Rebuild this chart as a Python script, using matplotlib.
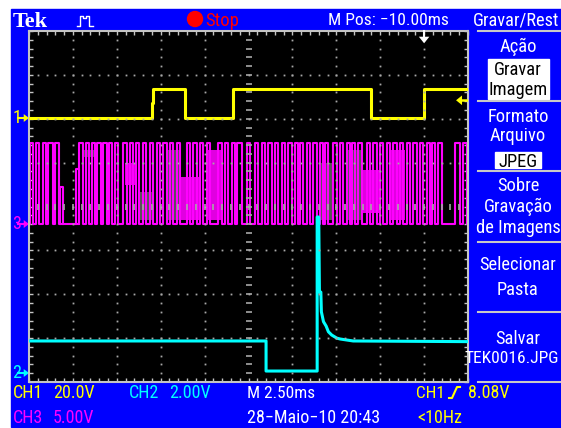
import numpy as np
import matplotlib
matplotlib.use("Agg")
import matplotlib.pyplot as plt
from matplotlib import font_manager
from matplotlib.patches import Rectangle, Circle
from matplotlib.lines import Line2D
from matplotlib.transforms import Affine2D, blended_transform_factory

# time in ms relative to the trigger point; screen spans 10 div x 2.5 ms
T_LEFT, T_RIGHT = -22.5, 2.5

# channel settings: volts per division and ground position (div from centre)
ch_scale = {"1": 20.0, "2": 2.0, "3": 5.0}
ch_pos = {"1": 2.017, "2": -3.795, "3": -0.399}
trig_level = 8.08  # V on CH1

# CH1 (yellow), step levels switching at each time
ch1_t = [-22.5, -15.51, -15.43, -13.61, -10.88, -3.02, 0.0, 2.5]
ch1_v = [0.0, 6.8, 13.2, 0.0, 13.2, 0.0, 13.2, 13.2]

# CH2 (cyan)
ch2_t = [-22.5, -9.00, -9.00, -6.09, -6.09, -6.00, -5.96, -5.88, -5.85, -5.73,
         -5.58, -5.45, -5.26, -4.97, -4.78, -4.04, 2.5]
ch2_v = [1.46, 1.46, 0.09, 0.09, 7.11, 7.11, 3.69, 3.69, 2.79, 2.34,
         2.14, 1.88, 1.73, 1.59, 1.55, 1.46, 1.43]

# CH3 (magenta) pulse edges
ch3_rise = [-22.47, -22.10, -21.71, -21.40, -21.01, -19.65, -19.25, -18.92, -18.60, -18.26,
            -17.94, -17.60, -17.12, -16.74, -16.40, -16.02, -15.60, -15.22, -14.85, -14.46,
            -14.08, -13.51, -13.14, -12.76, -12.37, -11.71, -11.33, -10.95, -10.67, -10.10,
            -9.62, -9.24, -8.87, -8.49, -8.10, -7.73, -7.35, -7.06, -6.68, -6.30,
            -5.92, -5.64, -5.17, -4.78, -4.40, -4.12, -3.74, -3.26, -2.89, -2.51,
            -2.12, -1.75, -1.37, -0.99, -0.61, -0.23, 0.15, 0.44, 0.81, 1.77, 2.24]
ch3_fall = [-22.27, -21.91, -21.53, -21.14, -20.77, -19.40, -19.06, -18.74, -18.41, -18.07,
            -17.75, -17.41, -16.93, -16.55, -16.21, -15.83, -15.42, -15.03, -14.65, -14.28,
            -13.90, -13.33, -12.94, -12.57, -12.19, -11.52, -11.14, -10.76, -10.38, -9.91,
            -9.44, -9.05, -8.67, -8.30, -7.92, -7.53, -7.16, -6.87, -6.49, -6.11,
            -5.73, -5.45, -4.97, -4.60, -4.21, -3.93, -3.55, -3.08, -2.69, -2.32,
            -1.94, -1.55, -1.18, -0.80, -0.42, -0.04, 0.34, 0.63, 1.01, 2.05, 2.43]
ch3_high, ch3_low = 9.23, -0.05

# partial pulses from earlier acquisitions
ghost_t0 = [-20.73, -19.84]
ghost_t1 = [-20.54, -19.65]
ghost_v = [4.2, 6.3]

# persistence blocks (t0, t1, v0, v1) on CH3
gray_blocks = [(-19.42, -18.74, 7.63, 8.43), (-16.29, -15.49, 0.46, 3.64),
               (-14.64, -13.90, 0.46, 8.43), (-5.92, -5.18, 0.46, 6.95),
               (-4.33, -3.47, 0.46, 8.43)]
pink_blocks = [(-17.03, -16.34, 4.44, 6.95), (-13.90, -12.76, 0.46, 5.35),
               (-12.36, -11.45, 0.46, 8.43), (-3.53, -2.51, 1.25, 6.15),
               (-1.94, -1.08, 0.46, 8.43)]

YEL, CYA, MAG, BLUE, GRID = "#ffff00", "#00ffff", "#ff00ff", "#0000ff", "#a8a8a8"

names = {f.name for f in font_manager.fontManager.ttflist}
FONT = "DejaVu Sans"
for cand in ["Liberation Sans Narrow", "Roboto Condensed", "DejaVu Sans Condensed"]:
    if cand in names:
        FONT = cand
        break

W, H = 561, 428
fig = plt.figure(figsize=(W / 100, H / 100), dpi=100)
fig.patch.set_facecolor("white")
PX = Affine2D().scale(1 / W, -1 / H).translate(0, 1) + fig.transFigure

fig.add_artist(Rectangle((11, 9), W - 11, 418, transform=PX, color=BLUE, zorder=0))


def label(x, yc, s, color="white", size=13.0, ha="left", family=None, weight="normal"):
    base = yc + 0.36 * size * 100 / 72
    fig.text(x, base, s, transform=PX, color=color, fontsize=size, ha=ha,
             va="baseline", family=family or FONT, fontweight=weight)


def to_div(ch, v):
    return ch_pos[ch] + np.asarray(v) / ch_scale[ch]


# screen
ax = fig.add_axes([29 / W, (H - 382) / H, 439 / W, 351 / H])
ax.set_facecolor("black")
ax.set_xlim(T_LEFT, T_RIGHT)
ax.set_ylim(-4, 4)
for sp in ax.spines.values():
    sp.set_color("#c4c4c4")
    sp.set_linewidth(1.5)
ax.set_xticks(np.arange(T_LEFT, T_RIGHT + 0.01, 0.5))
ax.set_yticks(np.arange(-4, 4.01, 0.2))
ax.tick_params(direction="in", length=3, width=1, color="#c4c4c4", top=True, right=True,
               labelleft=False, labelbottom=False)

# persistence
for t0, t1, v0, v1 in gray_blocks:
    ax.fill_between([t0, t1], to_div("3", v0), to_div("3", v1), color="#545454", lw=0, zorder=1)
for t0, t1, v0, v1 in pink_blocks:
    ax.fill_between([t0, t1], to_div("3", v0), to_div("3", v1), color="#e000e0", lw=0, zorder=1)

# CH3
t3 = [T_LEFT]
v3 = [ch3_low]
for r, f in zip(ch3_rise, ch3_fall):
    t3 += [r, f]
    v3 += [ch3_high, ch3_low]
t3.append(T_RIGHT)
v3.append(ch3_low)
ax.plot(t3, to_div("3", v3), drawstyle="steps-post", color=MAG, lw=1.5, zorder=2)
for t0, t1, v in zip(ghost_t0, ghost_t1, ghost_v):
    ax.plot([t0, t0, t1, t1], to_div("3", [ch3_low, v, v, ch3_low]), color=MAG, lw=1.5, zorder=2)

# CH1 and CH2
ax.plot(ch1_t, to_div("1", ch1_v), drawstyle="steps-post", color=YEL, lw=2.2, zorder=3)
ax.plot(ch2_t, to_div("2", ch2_v), color=CYA, lw=2.2, zorder=3)

# graticule dots
majors = np.arange(T_LEFT + 2.5, T_RIGHT - 0.1, 2.5)
ydots = np.arange(-3.8, 3.81, 0.2)
xdots = np.arange(T_LEFT + 0.5, T_RIGHT - 0.1, 0.5)
for xm in majors:
    if abs(xm + 10) < 0.01:
        ax.plot(np.full_like(ydots, xm), ydots, ls="none", marker="_", ms=4, mew=1.2,
                color=GRID, zorder=4)
    else:
        ax.plot(np.full_like(ydots, xm), ydots, ls="none", marker="s", ms=1.3, mew=0,
                color=GRID, zorder=4)
for ym in range(-3, 4):
    if ym == 0:
        ax.plot(xdots, np.zeros_like(xdots), ls="none", marker="|", ms=4, mew=1.2,
                color=GRID, zorder=4)
    else:
        ax.plot(xdots, np.full_like(xdots, ym), ls="none", marker="s", ms=1.3, mew=0,
                color=GRID, zorder=4)

# trigger position (top) and level (right) markers
ax.plot([0, 0], [4.0, 3.86], color="white", lw=1.5, clip_on=False, zorder=5)
ax.fill([-0.3, 0.3, 0.0], [3.87, 3.87, 3.72], color="white", lw=0, clip_on=False, zorder=5)
ty = to_div("1", trig_level)
ax.plot([2.1, 2.45], [ty, ty], color=YEL, lw=1.8, zorder=5)
ax.fill([2.16, 2.16, 1.82], [ty + 0.11, ty - 0.11, ty], color=YEL, lw=0, zorder=5)

# ground markers
gnd = blended_transform_factory(ax.transAxes, ax.transData)
for ch, col in [("1", YEL), ("2", CYA), ("3", MAG)]:
    y = ch_pos[ch]
    ax.text(-0.038, y, ch, transform=gnd, color=col, fontsize=13, family=FONT,
            ha="left", va="center", clip_on=False)
    ax.plot([-0.024, -0.008], [y, y], transform=gnd, color=col, lw=1.5, clip_on=False)
    ax.fill([-0.012, -0.012, 0.0], [y + 0.09, y - 0.09, y], transform=gnd, color=col,
            lw=0, clip_on=False)

# top bar
label(13, 19, "Tek", size=16, family="Liberation Serif", weight="bold")
fig.add_artist(Line2D([77, 80, 80, 83, 83, 86, 86, 89, 89, 93],
                      [26, 26, 16, 16, 18, 18, 16, 16, 26, 26],
                      transform=PX, color="white", lw=1.0))
fig.add_artist(Circle((195, 19), 7.5, transform=PX, color="#ff0000"))
label(205, 19, "Stop", color="#ff0000", size=13.5)
label(328, 19, "M Pos: \u221210.00ms", size=12.6)
label(473, 19, "Gravar/Rest", size=13.2)

# side menu
MX = 518
for y in [31, 101, 171, 242, 312, 382]:
    fig.add_artist(Line2D([478, 560], [y, y], transform=PX, color="#c8c8c8", lw=1.5))
fig.add_artist(Rectangle((488, 59), 61, 40, transform=PX, color="white"))
fig.add_artist(Rectangle((495, 152), 46, 16, transform=PX, color="white"))
menu = [("A\u00e7\u00e3o", 45, "white"), ("Gravar", 68, "black"), ("Imagem", 88, "black"),
        ("Formato", 115, "white"), ("Arquivo", 134, "white"), ("JPEG", 160, "black"),
        ("Sobre", 184, "white"), ("Grava\u00e7\u00e3o", 205, "white"),
        ("de Imagens", 226, "white"), ("Selecionar", 263, "white"), ("Pasta", 288, "white"),
        ("Salvar", 337, "white")]
for s, y, col in menu:
    label(MX, y, s, color=col, size=13.3, ha="center")
label(465, 357, "TEK0016.JPG", size=12.6)

# bottom status
label(13, 392, "CH1", color=YEL)
label(53, 392, "20.0V", color=YEL)
label(129, 392, "CH2", color=CYA)
label(169, 392, "2.00V", color=CYA)
label(247, 392, "M 2.50ms", size=12.4)
label(416, 392, "CH1", color=YEL, size=12.4)
fig.add_artist(Line2D([449, 452, 457, 460], [398, 398, 387, 387], transform=PX, color=YEL, lw=1.5))
label(468, 392, "8.08V", color=YEL)
label(13, 417, "CH3", color=MAG)
label(53, 417, "5.00V", color=MAG)
label(247, 417, "28\u2212Maio\u221210 20:43")
label(417, 417, "<10Hz", color=YEL)

fig.savefig("out.png", dpi=100, facecolor=fig.get_facecolor())
